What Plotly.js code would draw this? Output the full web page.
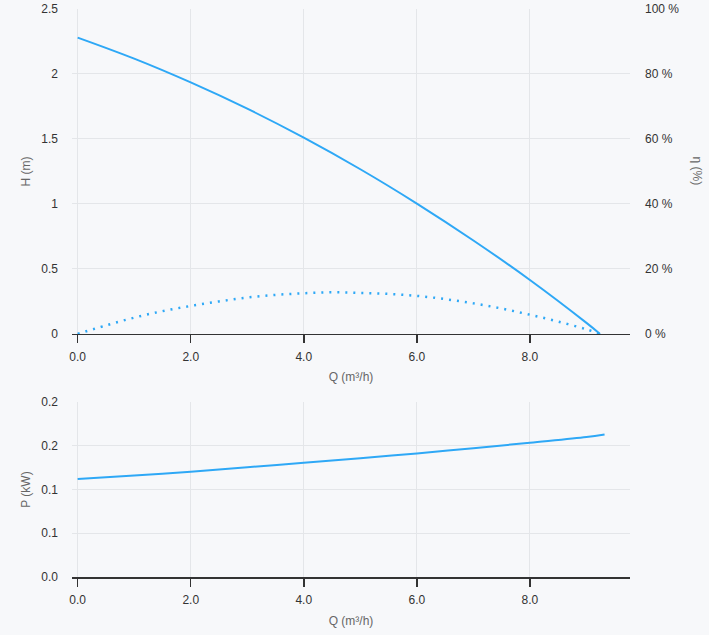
<!DOCTYPE html>
<html>
<head>
<meta charset="utf-8">
<script src="https://cdn.plot.ly/plotly-3.0.1.min.js"></script>
<style>
html,body{margin:0;padding:0;background:#f7f8fa;}
#chart{width:709px;height:635px;}
</style>
</head>
<body>
<div id="chart"></div>
<script>
// Head curve H (m) vs flow Q (m³/h)
const qHead = [0, 1, 2, 3, 4, 5, 6, 7, 8, 9, 9.24];
const headValues = [2.28, 2.118, 1.935, 1.733, 1.51, 1.267, 1.003, 0.719, 0.415, 0.085, 0];

// Efficiency η (%) vs Q
const qEff = [0, 0.5, 1, 1.5, 2, 2.5, 3, 3.5, 4, 4.5, 5, 5.5, 6, 6.5, 7, 7.5, 8, 8.5, 9, 9.24];
const effValues = [0, 2.6, 5.0, 7.0, 8.6, 10.0, 11.2, 12.0, 12.5, 12.8, 12.6, 12.3, 11.7, 10.7, 9.4, 7.8, 5.9, 3.8, 1.4, 0];

// Power P (kW) vs Q
const qPower = [0, 1, 2, 3, 4, 5, 6, 7, 8, 9, 9.32];
const powerValues = [0.112, 0.116, 0.1204, 0.1255, 0.1306, 0.1358, 0.1413, 0.1472, 0.1535, 0.160, 0.163];

// Tick labels
const xTickVals = [0, 2, 4, 6, 8];
const xTickText = ['0.0', '2.0', '4.0', '6.0', '8.0'];
const powerTickVals = [0, 0.05, 0.1, 0.15, 0.2];
const powerTickText = ['0.0', '0.1', '0.1', '0.2', '0.2'];

const lineColor = '#2ea8f6';
const gridColor = '#e4e6e9';
const axisColor = '#333333';
const tickFont = {family: 'Liberation Sans, Arial, sans-serif', size: 12, color: '#333333'};
const titleFont = {family: 'Liberation Sans, Arial, sans-serif', size: 12, color: '#666666'};

const traces = [
  {x: qHead, y: headValues, xaxis: 'x', yaxis: 'y', mode: 'lines', line: {color: lineColor, width: 2, shape: 'spline'}, hoverinfo: 'skip'},
  {x: qEff, y: effValues, xaxis: 'x', yaxis: 'y2', mode: 'lines', line: {color: lineColor, width: 2.5, shape: 'spline', dash: '2px,6px'}, hoverinfo: 'skip'},
  {x: qPower, y: powerValues, xaxis: 'x2', yaxis: 'y3', mode: 'lines', line: {color: lineColor, width: 2, shape: 'spline'}, hoverinfo: 'skip'}
];

const xCommon = {
  range: [-0.1, 9.77], tickvals: xTickVals, ticktext: xTickText,
  showgrid: true, gridcolor: gridColor, gridwidth: 1,
  showline: true, linecolor: axisColor, linewidth: 1.5,
  ticks: 'outside', ticklen: 8, tickwidth: 1.5, tickcolor: axisColor,
  zeroline: false, tickfont: tickFont, fixedrange: true, ticklabelstandoff: 3
};

const layout = {
  width: 709, height: 635,
  paper_bgcolor: '#f7f8fa', plot_bgcolor: '#f7f8fa',
  margin: {l: 72, r: 79, t: 9, b: 58},
  showlegend: false,
  xaxis: Object.assign({}, xCommon, {anchor: 'y', domain: [0, 1],
    title: {text: 'Q (m³/h)', font: titleFont, standoff: 10}}),
  yaxis: {domain: [0.428, 1], range: [0, 2.5], dtick: 0.5, anchor: 'x',
    showgrid: true, gridcolor: gridColor, zeroline: false, showline: false,
    tickfont: tickFont, ticklabelstandoff: 13,
    title: {text: 'H (m)', font: titleFont, standoff: 8}},
  yaxis2: {overlaying: 'y', side: 'right', anchor: 'x', range: [0, 100], dtick: 20,
    ticksuffix: ' %', showgrid: false, zeroline: false, showline: false,
    tickfont: tickFont, ticklabelstandoff: 14},
  xaxis2: Object.assign({}, xCommon, {anchor: 'y3', domain: [0, 1],
    title: {text: 'Q (m³/h)', font: titleFont, standoff: 10}}),
  yaxis3: {domain: [0, 0.308], range: [0, 0.2], anchor: 'x2',
    tickvals: powerTickVals, ticktext: powerTickText,
    showgrid: true, gridcolor: gridColor, zeroline: false, showline: false,
    tickfont: tickFont, ticklabelstandoff: 13,
    title: {text: 'P (kW)', font: titleFont, standoff: 8}},
  annotations: [
    {text: 'η (%)', xref: 'paper', yref: 'paper', x: 1.12, y: 0.714,
     xanchor: 'center', yanchor: 'middle', showarrow: false, textangle: 90, font: titleFont}
  ]
};

Plotly.newPlot('chart', traces, layout, {displayModeBar: false, staticPlot: true});
</script>
</body>
</html>
